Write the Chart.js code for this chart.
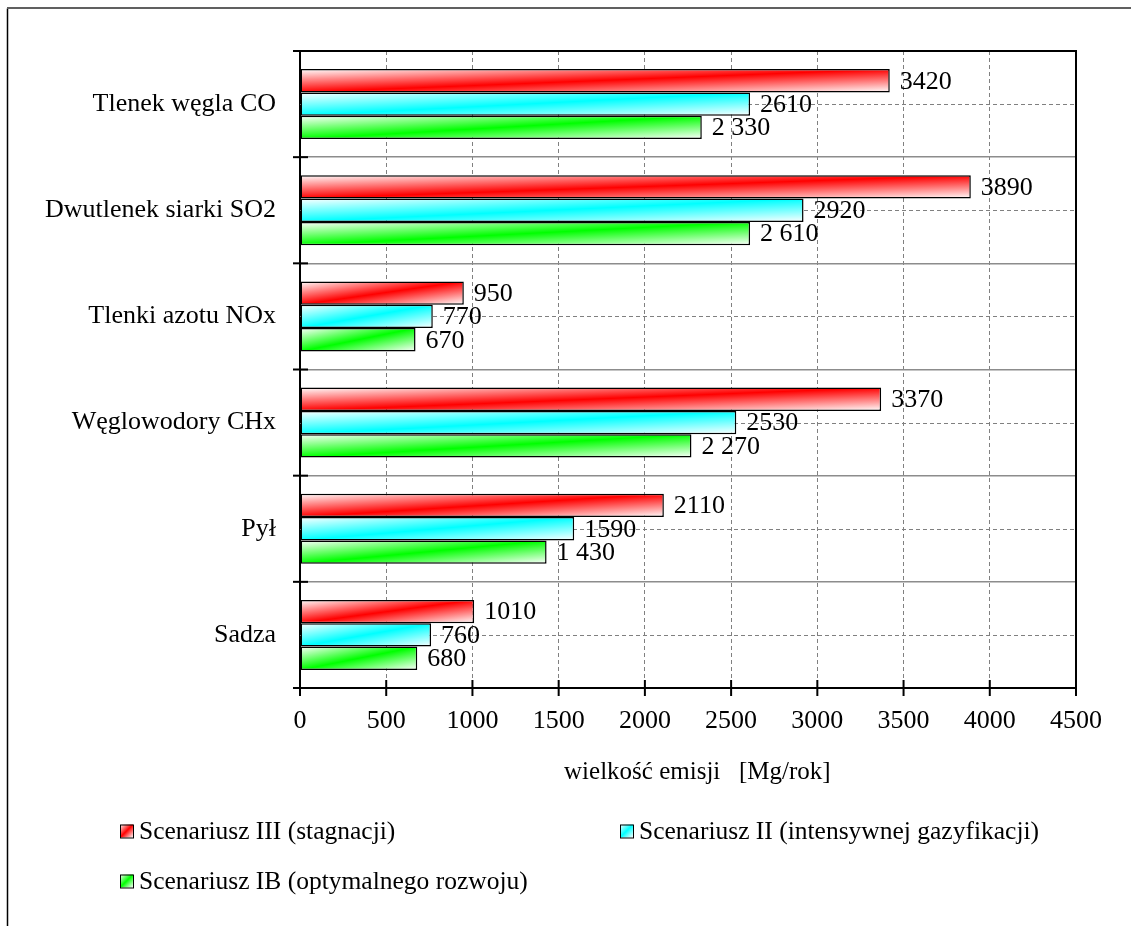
<!DOCTYPE html>
<html>
<head>
<meta charset="utf-8">
<script src="https://cdn.jsdelivr.net/npm/chart.js@4.4.1/dist/chart.umd.min.js"></script>
<style>
  html, body { margin: 0; padding: 0; background: #fff; }
  #wrap { position: relative; width: 1131px; height: 926px; }
</style>
</head>
<body>
<div id="wrap"><canvas id="chart" width="1131" height="926"></canvas></div>
<script>
// categories (top to bottom) and series values, Mg/rok
const categories = ['Tlenek węgla CO', 'Dwutlenek siarki SO2', 'Tlenki azotu NOx', 'Węglowodory CHx', 'Pył', 'Sadza'];
const seriesNames = ['Scenariusz III (stagnacji)', 'Scenariusz II (intensywnej gazyfikacji)', 'Scenariusz IB (optymalnego rozwoju)'];
const stagnacja = [3420, 3890, 950, 3370, 2110, 1010];
const gazyfikacja = [2610, 2920, 770, 2530, 1590, 760];
const optymalny = [2330, 2610, 670, 2270, 1430, 680];
const xMin = 0, xMax = 4500, xStep = 500;
const axisTitle = '   wielkość emisji   [Mg/rok]';

const seriesColors = ['#ff0000', '#00ffff', '#00ff00'];
// the green series is printed with a space as thousands separator
const spacedThousands = [false, false, true];
const FONT = "'Liberation Serif', 'Times New Roman', serif";

function fmt(v, spaced) {
    const s = String(v);
    return spaced ? s.replace(/\B(?=(\d{3})+(?!\d))/g, ' ') : s;
}

// diagonal white -> colour -> white fill in box-normalised coordinates
function diagGradient(ctx, left, top, w, h, color) {
    const gx = 1 / (2 * w), gy = 1 / (2 * h);
    const n = gx * gx + gy * gy;
    const g = ctx.createLinearGradient(left, top, left + gx / n, top + gy / n);
    g.addColorStop(0, '#ffffff');
    g.addColorStop(0.5, color);
    g.addColorStop(1, '#ffffff');
    return g;
}

const gradientFill = {
    id: 'gradientFill',
    beforeDatasetsDraw(chart) {
        const ctx = chart.ctx;
        chart.data.datasets.forEach((ds, di) => {
            chart.getDatasetMeta(di).data.forEach(el => {
                const left = Math.min(el.base, el.x), w = Math.max(1, Math.abs(el.x - el.base));
                const top = el.y - el.height / 2;
                const g = diagGradient(ctx, left, top, w, el.height, seriesColors[di]);
                el.options = Object.assign({}, el.options, { backgroundColor: g });
            });
        });
    }
};

const gridExtras = {
    id: 'gridExtras',
    beforeDatasetsDraw(chart) {
        const { ctx, chartArea: a, scales: { y } } = chart;
        ctx.save();
        ctx.strokeStyle = '#808080';
        ctx.lineWidth = 1;
        ctx.setLineDash([4, 3]);
        categories.forEach((c, i) => {
            const py = Math.round(y.getPixelForValue(i)) + 0.5;
            ctx.beginPath();
            ctx.moveTo(a.left, py);
            ctx.lineTo(a.right, py);
            ctx.stroke();
        });
        ctx.restore();
    },
    afterDraw(chart) {
        const { ctx, chartArea: a, scales: { x, y } } = chart;
        ctx.save();
        ctx.strokeStyle = '#000';
        ctx.lineWidth = 2;
        // top and right edges of the plot area
        ctx.beginPath();
        ctx.moveTo(a.left - 7, a.top);
        ctx.lineTo(a.right, a.top);
        ctx.lineTo(a.right, a.bottom);
        ctx.stroke();
        // crossing tick marks
        x.ticks.forEach(t => {
            const px = x.getPixelForValue(t.value);
            ctx.beginPath();
            ctx.moveTo(px, a.bottom - 8);
            ctx.lineTo(px, a.bottom + 8);
            ctx.stroke();
        });
        for (let i = 0; i <= categories.length; i++) {
            const py = y.getPixelForValue(i - 0.5);
            ctx.beginPath();
            ctx.moveTo(a.left - 7, py);
            ctx.lineTo(a.left + 8, py);
            ctx.stroke();
        }
        // outer frame (top and left edges only are visible)
        ctx.lineWidth = 1.5;
        ctx.strokeStyle = '#000';
        ctx.beginPath();
        ctx.moveTo(7.5, 926);
        ctx.lineTo(7.5, 8.5);
        ctx.stroke();
        ctx.strokeStyle = '#606060';
        ctx.lineWidth = 2;
        ctx.beginPath();
        ctx.moveTo(7, 8);
        ctx.lineTo(1131, 8);
        ctx.stroke();
        ctx.restore();
    }
};

const valueLabels = {
    id: 'valueLabels',
    afterDatasetsDraw(chart) {
        const ctx = chart.ctx;
        ctx.save();
        ctx.font = '26px ' + FONT;
        ctx.fillStyle = '#000';
        ctx.textAlign = 'left';
        ctx.textBaseline = 'middle';
        chart.data.datasets.forEach((ds, di) => {
            chart.getDatasetMeta(di).data.forEach((el, i) => {
                ctx.fillText(fmt(ds.data[i], spacedThousands[di]), el.x + 10, el.y + 1);
            });
        });
        ctx.restore();
    }
};

// legend in two columns, as in the source
const legendSlots = [[120, 831], [620, 831], [120, 881]];
const boxLegend = {
    id: 'boxLegend',
    afterDraw(chart) {
        const ctx = chart.ctx;
        ctx.save();
        ctx.font = '25.5px ' + FONT;
        ctx.textBaseline = 'middle';
        ctx.fillStyle = '#000';
        chart.data.datasets.forEach((ds, di) => {
            const [bx, cy] = legendSlots[di];
            const s = 13;
            ctx.fillStyle = diagGradient(ctx, bx, cy - s / 2, s, s, seriesColors[di]);
            ctx.fillRect(bx, cy - s / 2, s, s);
            ctx.strokeStyle = '#000';
            ctx.lineWidth = 1;
            ctx.strokeRect(bx + 0.5, cy - s / 2 + 0.5, s, s);
            ctx.fillStyle = '#000';
            ctx.fillText(ds.label, bx + s + 6, cy + 1);
        });
        ctx.restore();
    }
};

const series = [stagnacja, gazyfikacja, optymalny];

new Chart(document.getElementById('chart'), {
    type: 'bar',
    data: {
        labels: categories,
        datasets: series.map((vals, i) => ({
            label: seriesNames[i],
            data: vals,
            // scriptable so every bar gets its own options object
            backgroundColor: ctx => seriesColors[ctx.datasetIndex],
            borderColor: '#000',
            borderWidth: 1.5,
            borderSkipped: false,
            barPercentage: 1,
            categoryPercentage: 0.66
        }))
    },
    options: {
        indexAxis: 'y',
        responsive: false,
        animation: false,
        devicePixelRatio: 1,
        layout: { padding: { left: 0, top: 51, right: 55, bottom: 138 } },
        plugins: {
            legend: { display: false },
            tooltip: { enabled: false }
        },
        scales: {
            x: {
                min: xMin,
                max: xMax,
                ticks: {
                    stepSize: xStep,
                    callback: v => String(v),
                    color: '#000',
                    padding: 18,
                    font: { family: FONT, size: 26 }
                },
                grid: { color: '#808080', lineWidth: 1, drawTicks: false },
                border: { color: '#000', width: 2, dash: [4, 3] },
                title: {
                    display: true,
                    text: axisTitle,
                    color: '#000',
                    font: { family: FONT, size: 25 },
                    padding: { top: 0, bottom: 1 }
                },
                afterFit: s => { s.height = 100; }
            },
            y: {
                ticks: {
                    color: '#000',
                    padding: 24,
                    font: { family: FONT, size: 26 }
                },
                grid: { color: '#8c8c8c', lineWidth: 1.5, drawTicks: false, offset: true },
                border: { color: '#000', width: 2 },
                afterFit: s => { s.width = 300; }
            }
        }
    },
    plugins: [gradientFill, gridExtras, valueLabels, boxLegend]
});
</script>
</body>
</html>
